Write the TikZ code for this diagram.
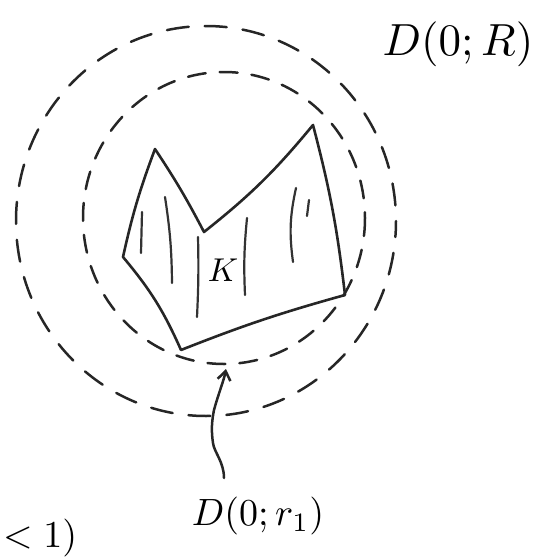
\documentclass[tikz,border=0pt]{standalone}
\usetikzlibrary{arrows.meta}
\begin{document}
\begin{tikzpicture}[x=1pt,y=-1pt,
  ink/.style={line width=2.5pt,line cap=round,line join=round,black!85},
  dashcirc/.style={ink,dash pattern=on 22pt off 16pt},
  hatch/.style={line width=2.2pt,line cap=round,black!80},
  lab/.style={inner sep=0pt}]
\useasboundingbox (0,0) rectangle (548,560);
% outer circle D(0;R)
\draw[dashcirc,dash phase=6pt] (206,221) ellipse [x radius=190,y radius=195];
% inner circle D(0;r1)
\draw[dashcirc,dash pattern=on 18pt off 14pt] (224,218) ellipse [x radius=141,y radius=146];
% compact set K
\coordinate (p1) at (155,149);
\coordinate (p2) at (204,232);
\coordinate (p3) at (313,125);
\coordinate (p4) at (345,295);
\coordinate (p5) at (181,350);
\coordinate (p6) at (123,257);
\draw[ink,line width=2.6pt] (p1) to[bend left=3] (p2) to[bend right=6] (p3)
  to[bend left=4] (p4) to[bend right=3] (p5) to[bend right=8] (p6) to[bend left=4] (p1);
% hatching
\draw[hatch] (142,212) -- (141,253);
\draw[hatch] (165,197) to[bend left=4] (172,283);
\draw[hatch] (198,237) to[bend left=2] (197,317);
\draw[hatch] (247,218) to[bend right=4] (245,295);
\draw[hatch] (296,188) to[bend right=10] (293,262);
\draw[hatch] (309,200) -- (307,216);
\node[lab] (K) at (223,270) {\scalebox{3.3}{$K$}};
% labels
\node[lab] (DR) at (458,44) {\scalebox{4.5}{$D(0;R)$}};
\node[lab] (Dr) at (258,516) {\scalebox{3.8}{$D(0;r_1)$}};
\coordinate (tip) at (226,369);
\draw[ink,-{Straight Barb[length=9pt,width=13pt]}] (224,478) .. controls (224,462) and (214,452) .. (213,443)
  .. controls (211,430) and (212,420) .. (214,410) .. controls (218,395) and (224,380) .. (tip);
% text at the lower left
\node[lab,anchor=south west] (cut) at (3,557) {\scalebox{3.8}{$<1)$}};
\end{tikzpicture}
\end{document}
